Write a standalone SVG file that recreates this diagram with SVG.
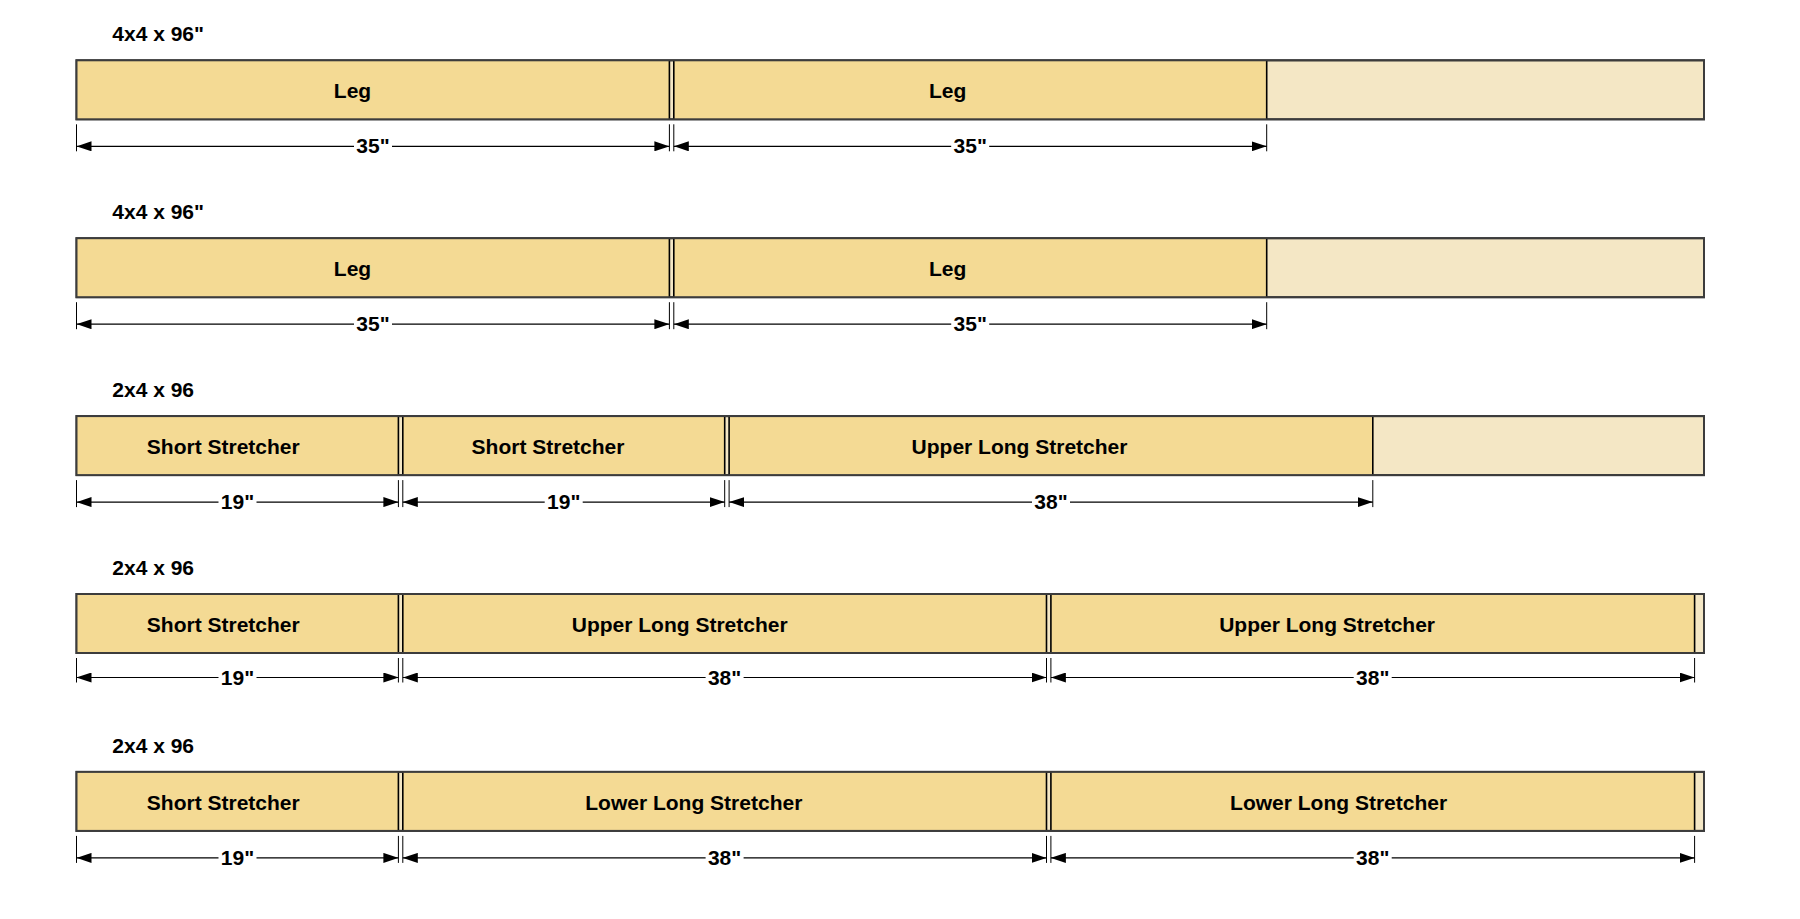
<svg xmlns="http://www.w3.org/2000/svg" width="1800" height="919" viewBox="0 0 1800 919">
<defs>
<style>
text{font-family:"Liberation Sans",Arial,sans-serif;font-weight:bold;font-size:21px;fill:#000}
.lbl{text-anchor:middle}
.board{fill:#f4e7c5;stroke:#3c3c3c;stroke-width:2}
.piece{fill:#f4da94;stroke:none}
.cut{stroke:#000;stroke-width:1.6}
.dim{stroke:#000;stroke-width:1.2;fill:none;marker-start:url(#ah);marker-end:url(#ah)}
.ext{stroke:#000;stroke-width:1}
.bg{fill:#fff}
</style>
<marker id="ah" viewBox="0 0 15 10" refX="15" refY="5" markerWidth="15" markerHeight="10" markerUnits="userSpaceOnUse" orient="auto-start-reverse"><path d="M0,0 L15,5 L0,10 z" fill="#000"/></marker>
</defs>
<rect width="1800" height="919" fill="#fff"/>

<!-- Board 1 -->
<g id="board1">
<text x="112.3" y="41">4x4 x 96"</text>
<rect class="board" x="76.5" y="60.3" width="1627.5" height="59"/>
<g id="b1-leg1"><rect class="piece" x="76.5" y="60.3" width="592.9" height="59"/><text class="lbl" x="352.5" y="98.3">Leg</text></g>
<g id="b1-leg2"><rect class="piece" x="673.8" y="60.3" width="592.9" height="59"/><text class="lbl" x="947.6" y="98.3">Leg</text></g>
<path class="cut" d="M669.4,60.3V119.3M673.8,60.3V119.3M1266.7,60.3V119.3"/>
<rect x="76.5" y="60.3" width="1627.5" height="59" fill="none" stroke="#3c3c3c" stroke-width="2"/>
</g>

<!-- Board 2 -->
<g id="board2">
<text x="112.3" y="218.9">4x4 x 96"</text>
<rect class="board" x="76.5" y="238.2" width="1627.5" height="59"/>
<g id="b2-leg1"><rect class="piece" x="76.5" y="238.2" width="592.9" height="59"/><text class="lbl" x="352.5" y="276.2">Leg</text></g>
<g id="b2-leg2"><rect class="piece" x="673.8" y="238.2" width="592.9" height="59"/><text class="lbl" x="947.6" y="276.2">Leg</text></g>
<path class="cut" d="M669.4,238.2V297.2M673.8,238.2V297.2M1266.7,238.2V297.2"/>
<rect x="76.5" y="238.2" width="1627.5" height="59" fill="none" stroke="#3c3c3c" stroke-width="2"/>
</g>

<!-- Board 3 -->
<g id="board3">
<text x="112.3" y="396.8">2x4 x 96</text>
<rect class="board" x="76.5" y="416.1" width="1627.5" height="59"/>
<g id="b3-ss1"><rect class="piece" x="76.5" y="416.1" width="321.9" height="59"/><text class="lbl" x="223.3" y="454.1">Short Stretcher</text></g>
<g id="b3-ss2"><rect class="piece" x="402.8" y="416.1" width="321.9" height="59"/><text class="lbl" x="548" y="454.1">Short Stretcher</text></g>
<g id="b3-uls"><rect class="piece" x="729.1" y="416.1" width="643.7" height="59"/><text class="lbl" x="1019.5" y="454.1">Upper Long Stretcher</text></g>
<path class="cut" d="M398.4,416.1V475.1M402.8,416.1V475.1M724.7,416.1V475.1M729.1,416.1V475.1M1372.8,416.1V475.1"/>
<rect x="76.5" y="416.1" width="1627.5" height="59" fill="none" stroke="#3c3c3c" stroke-width="2"/>
</g>

<!-- Board 4 -->
<g id="board4">
<text x="112.3" y="574.7">2x4 x 96</text>
<rect class="board" x="76.5" y="594" width="1627.5" height="59"/>
<g id="b4-ss"><rect class="piece" x="76.5" y="594" width="321.9" height="59"/><text class="lbl" x="223.3" y="632">Short Stretcher</text></g>
<g id="b4-uls1"><rect class="piece" x="402.8" y="594" width="643.7" height="59"/><text class="lbl" x="679.7" y="632">Upper Long Stretcher</text></g>
<g id="b4-uls2"><rect class="piece" x="1050.9" y="594" width="643.7" height="59"/><text class="lbl" x="1327.1" y="632">Upper Long Stretcher</text></g>
<path class="cut" d="M398.4,594V653M402.8,594V653M1046.5,594V653M1050.9,594V653M1694.6,594V653"/>
<rect x="76.5" y="594" width="1627.5" height="59" fill="none" stroke="#3c3c3c" stroke-width="2"/>
</g>

<!-- Board 5 -->
<g id="board5">
<text x="112.3" y="752.6">2x4 x 96</text>
<rect class="board" x="76.5" y="771.9" width="1627.5" height="59"/>
<g id="b5-ss"><rect class="piece" x="76.5" y="771.9" width="321.9" height="59"/><text class="lbl" x="223.3" y="809.9">Short Stretcher</text></g>
<g id="b5-lls1"><rect class="piece" x="402.8" y="771.9" width="643.7" height="59"/><text class="lbl" x="693.8" y="809.9">Lower Long Stretcher</text></g>
<g id="b5-lls2"><rect class="piece" x="1050.9" y="771.9" width="643.7" height="59"/><text class="lbl" x="1338.6" y="809.9">Lower Long Stretcher</text></g>
<path class="cut" d="M398.4,771.9V830.9M402.8,771.9V830.9M1046.5,771.9V830.9M1050.9,771.9V830.9M1694.6,771.9V830.9"/>
<rect x="76.5" y="771.9" width="1627.5" height="59" fill="none" stroke="#3c3c3c" stroke-width="2"/>
</g>

<!-- Dimension connectors -->
<g id="dimensions">
<!-- row 1 -->
<path class="ext" d="M76.5,124.3V151.3M669.4,124.3V151.3M673.8,124.3V151.3M1266.7,124.3V151.3"/>
<line class="dim" x1="76.5" y1="146.3" x2="669.4" y2="146.3"/>
<line class="dim" x1="673.8" y1="146.3" x2="1266.7" y2="146.3"/>
<rect class="bg" x="354" y="137" width="38" height="19"/>
<rect class="bg" x="951.2" y="137" width="38" height="19"/>
<text class="lbl" x="373" y="153.3">35"</text>
<text class="lbl" x="970.2" y="153.3">35"</text>
<!-- row 2 -->
<path class="ext" d="M76.5,302.2V329.2M669.4,302.2V329.2M673.8,302.2V329.2M1266.7,302.2V329.2"/>
<line class="dim" x1="76.5" y1="324.2" x2="669.4" y2="324.2"/>
<line class="dim" x1="673.8" y1="324.2" x2="1266.7" y2="324.2"/>
<rect class="bg" x="354" y="315" width="38" height="19"/>
<rect class="bg" x="951.2" y="315" width="38" height="19"/>
<text class="lbl" x="373" y="331.2">35"</text>
<text class="lbl" x="970.2" y="331.2">35"</text>
<!-- row 3 -->
<path class="ext" d="M76.5,480.1V507.1M398.4,480.1V507.1M402.8,480.1V507.1M724.7,480.1V507.1M729.1,480.1V507.1M1372.8,480.1V507.1"/>
<line class="dim" x1="76.5" y1="502.1" x2="398.4" y2="502.1"/>
<line class="dim" x1="402.8" y1="502.1" x2="724.7" y2="502.1"/>
<line class="dim" x1="729.1" y1="502.1" x2="1372.8" y2="502.1"/>
<rect class="bg" x="218.5" y="493" width="38" height="19"/>
<rect class="bg" x="544.7" y="493" width="38" height="19"/>
<rect class="bg" x="1032" y="493" width="38" height="19"/>
<text class="lbl" x="237.5" y="509.1">19"</text>
<text class="lbl" x="563.7" y="509.1">19"</text>
<text class="lbl" x="1051" y="509.1">38"</text>
<!-- row 4 -->
<path class="ext" d="M76.5,658V682.5M398.4,658V682.5M402.8,658V682.5M1046.5,658V682.5M1050.9,658V682.5M1694.6,658V682.5"/>
<line class="dim" x1="76.5" y1="677.5" x2="398.4" y2="677.5"/>
<line class="dim" x1="402.8" y1="677.5" x2="1046.5" y2="677.5"/>
<line class="dim" x1="1050.9" y1="677.5" x2="1694.6" y2="677.5"/>
<rect class="bg" x="218.5" y="668.3" width="38" height="19"/>
<rect class="bg" x="705.6" y="668.3" width="38" height="19"/>
<rect class="bg" x="1353.7" y="668.3" width="38" height="19"/>
<text class="lbl" x="237.5" y="684.5">19"</text>
<text class="lbl" x="724.6" y="684.5">38"</text>
<text class="lbl" x="1372.7" y="684.5">38"</text>
<!-- row 5 -->
<path class="ext" d="M76.5,835.9V862.9M398.4,835.9V862.9M402.8,835.9V862.9M1046.5,835.9V862.9M1050.9,835.9V862.9M1694.6,835.9V862.9"/>
<line class="dim" x1="76.5" y1="857.9" x2="398.4" y2="857.9"/>
<line class="dim" x1="402.8" y1="857.9" x2="1046.5" y2="857.9"/>
<line class="dim" x1="1050.9" y1="857.9" x2="1694.6" y2="857.9"/>
<rect class="bg" x="218.5" y="848.7" width="38" height="19"/>
<rect class="bg" x="705.6" y="848.7" width="38" height="19"/>
<rect class="bg" x="1353.7" y="848.7" width="38" height="19"/>
<text class="lbl" x="237.5" y="864.9">19"</text>
<text class="lbl" x="724.6" y="864.9">38"</text>
<text class="lbl" x="1372.7" y="864.9">38"</text>
</g>
</svg>
